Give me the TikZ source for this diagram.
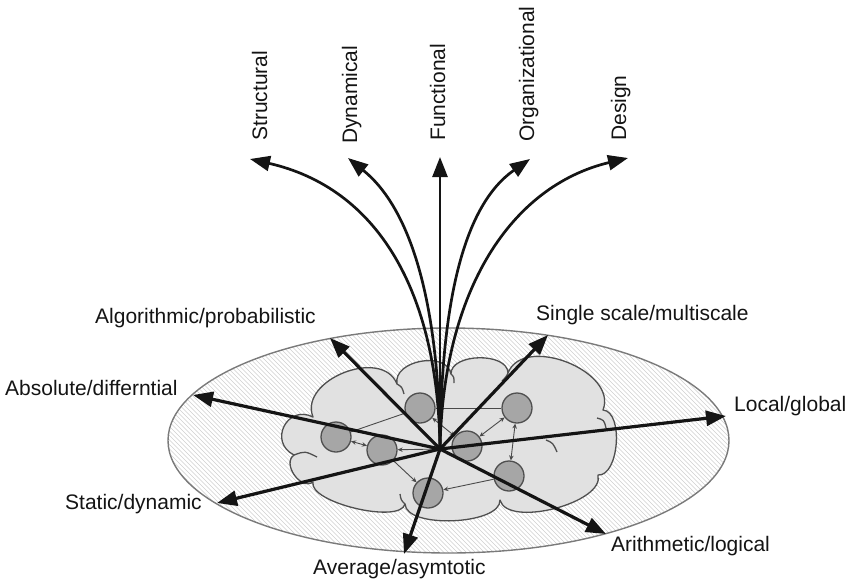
\documentclass[tikz,border=0pt]{standalone}
\usepackage{fontspec}
\setmainfont{Liberation Sans}
\usetikzlibrary{arrows.meta,calc}

\definecolor{ink}{HTML}{141414}
\definecolor{rim}{HTML}{7a7a7a}
\definecolor{hatchgray}{HTML}{cfcfcf}
\definecolor{cloudfill}{HTML}{e1e1e1}
\definecolor{cloudline}{HTML}{4f4f4f}
\definecolor{blobfill}{HTML}{a6a6a6}
\definecolor{thinline}{HTML}{4a4a4a}

\tikzset{
  lbl/.style={font=\fontsize{21}{25}\selectfont, inner sep=0pt, text=ink},
  vlbl/.style={lbl, rotate=90, anchor=base west},
  axisarrow/.style={draw=ink, line width=3.2pt, -{Triangle[length=20pt,width=15pt]}},
  fanarrow/.style={draw=ink, line width=2.7pt, -{Triangle[length=20pt,width=15pt]}},
  blob/.style={circle, draw=cloudline, line width=1.3pt, fill=blobfill, minimum size=30pt, inner sep=0pt},
  link/.style={draw=thinline, line width=0.9pt},
  linkone/.style={link, -{Stealth[length=5pt,width=4.5pt]}},
  linktwo/.style={link, {Stealth[length=5pt,width=4.5pt]}-{Stealth[length=5pt,width=4.5pt]}},
  curl/.style={draw=cloudline, line width=1.3pt},
}

\begin{document}
\begin{tikzpicture}[x=1pt, y=-1pt]
\useasboundingbox (0,0) rectangle (846,581);

% ---- hatched disc ----
\coordinate (ec) at (448.5,440.5);
\begin{scope}
  \clip (ec) ellipse [x radius=280.5pt, y radius=112.5pt];
  \fill[white] (ec) ellipse [x radius=280.5pt, y radius=112.5pt];
  \foreach \i in {0,4.5,...,745} {
    \draw[hatchgray, line width=0.6pt] (\i,320) -- ++(245,245);
  }
\end{scope}
\draw[rim, line width=1.4pt] (ec) ellipse [x radius=280.5pt, y radius=112.5pt];

% ---- cloud ----
\coordinate (v1) at (313,417);
\coordinate (v2) at (397,384);
\coordinate (v3) at (451,374);
\coordinate (v4) at (508,373);
\coordinate (v5) at (603,410);
\coordinate (v6) at (598,475);
\coordinate (v7) at (500,500);
\coordinate (v8) at (405,504);
\coordinate (v9) at (313,482);
\coordinate (v10) at (294,455);
\draw[draw=cloudline, fill=cloudfill, line width=1.3pt, line join=round] (v1)
  .. controls ($(v1)!40pt!90:(v2)$) and ($(v2)!40pt!-90:(v1)$) .. (v2)
  .. controls ($(v2)!24pt!90:(v3)$) and ($(v3)!24pt!-90:(v2)$) .. (v3)
  .. controls ($(v3)!21pt!90:(v4)$) and ($(v4)!21pt!-90:(v3)$) .. (v4)
  .. controls ($(v4)!42pt!90:(v5)$) and ($(v5)!42pt!-90:(v4)$) .. (v5)
  .. controls ($(v5)!21pt!90:(v6)$) and ($(v6)!21pt!-90:(v5)$) .. (v6)
  .. controls ($(v6)!29pt!90:(v7)$) and ($(v7)!29pt!-90:(v6)$) .. (v7)
  .. controls ($(v7)!25pt!90:(v8)$) and ($(v8)!25pt!-90:(v7)$) .. (v8)
  .. controls ($(v8)!21pt!90:(v9)$) and ($(v9)!21pt!-90:(v8)$) .. (v9)
  .. controls ($(v9)!15pt!90:(v10)$) and ($(v10)!15pt!-90:(v9)$) .. (v10)
  .. controls ($(v10)!29pt!90:(v1)$) and ($(v1)!29pt!-90:(v10)$) .. (v1)
  -- cycle;
% inner curls of the cloud lobes
\draw[curl] (v2) .. controls (402,387) .. (404,394);
\draw[curl] (v3) .. controls (454,377) .. (454,383);
\draw[curl] (v4) .. controls (506,377) .. (502,381);
\draw[curl] (v10) .. controls (305,451) .. (317,457);
\draw[curl] (v8) .. controls (401,500) .. (400,494);
\draw[curl] (546,440) .. controls (553,443) .. (557,452);
\draw[curl] (597,418) .. controls (604,420) .. (606,428);

% ---- agents inside the cloud ----
\coordinate (hub) at (440,449);
\node[blob] (n1) at (420,408) {};
\node[blob] (n2) at (517,408) {};
\node[blob] (n3) at (336,437) {};
\node[blob] (n4) at (382,450) {};
\node[blob] (n5) at (467,446) {};
\node[blob] (n6) at (509,476) {};
\node[blob] (n7) at (428,493) {};

\draw[link] (n1) -- (n2);
\draw[link] (n1) -- (n3);
\draw[linktwo] (n3) -- (n4);
\draw[linkone] (hub) -- (n4);
\draw[linktwo] (n1) -- (n5);
\draw[linktwo] (n5) -- (n2);
\draw[linktwo] (n2) -- (n6);
\draw[linkone] (n6) -- (n7);
\draw[linkone] (n4) -- (n7);

% ---- radial axes in the plane ----
\coordinate (a1) at (330,338);
\coordinate (a2) at (548,335);
\coordinate (a3) at (193,395);
\coordinate (a4) at (726,416);
\coordinate (a5) at (217,503);
\coordinate (a6) at (404,554);
\coordinate (a7) at (606,534);
\foreach \t in {a1,a2,a3,a4,a5,a6,a7} {
  \draw[axisarrow] (hub) -- (\t);
}

% ---- fan of curved arrows upward ----
\coordinate (t1) at (250,159);
\coordinate (t2) at (348,158);
\coordinate (t3) at (440,157);
\coordinate (t4) at (530,159);
\coordinate (t5) at (628,158);
\draw[fanarrow] (hub) .. controls (438,290) and (377,188) .. (t1);
\draw[fanarrow] (hub) .. controls (439,300) and (410,208) .. (t2);
\draw[fanarrow] (hub) -- (t3);
\draw[fanarrow] (hub) .. controls (441,300) and (464,205) .. (t4);
\draw[fanarrow] (hub) .. controls (443,290) and (511,186) .. (t5);

% ---- labels ----
\node[vlbl] (lStructural) at (267,141) {Structural};
\node[vlbl] (lDynamical) at (357,144) {Dynamical};
\node[vlbl] (lFunctional) at (445,141) {Functional};
\node[vlbl] (lOrganizational) at (534,142) {Organizational};
\node[vlbl] (lDesign) at (626,141) {Design};

\node[lbl, anchor=base west] (lAlg) at (95,323) {Algorithmic/probabilistic};
\node[lbl, anchor=base west] (lSingle) at (536,320) {Single scale/multiscale};
\node[lbl, anchor=base west] (lAbs) at (5,395) {Absolute/differntial};
\node[lbl, anchor=base west] (lLocal) at (734,411) {Local/global};
\node[lbl, anchor=base west] (lStatic) at (65,509) {Static/dynamic};
\node[lbl, anchor=base west] (lArith) at (611,551) {Arithmetic/logical};
\node[lbl, anchor=base west] (lAvg) at (313,574) {Average/asymtotic};
\end{tikzpicture}
\end{document}
